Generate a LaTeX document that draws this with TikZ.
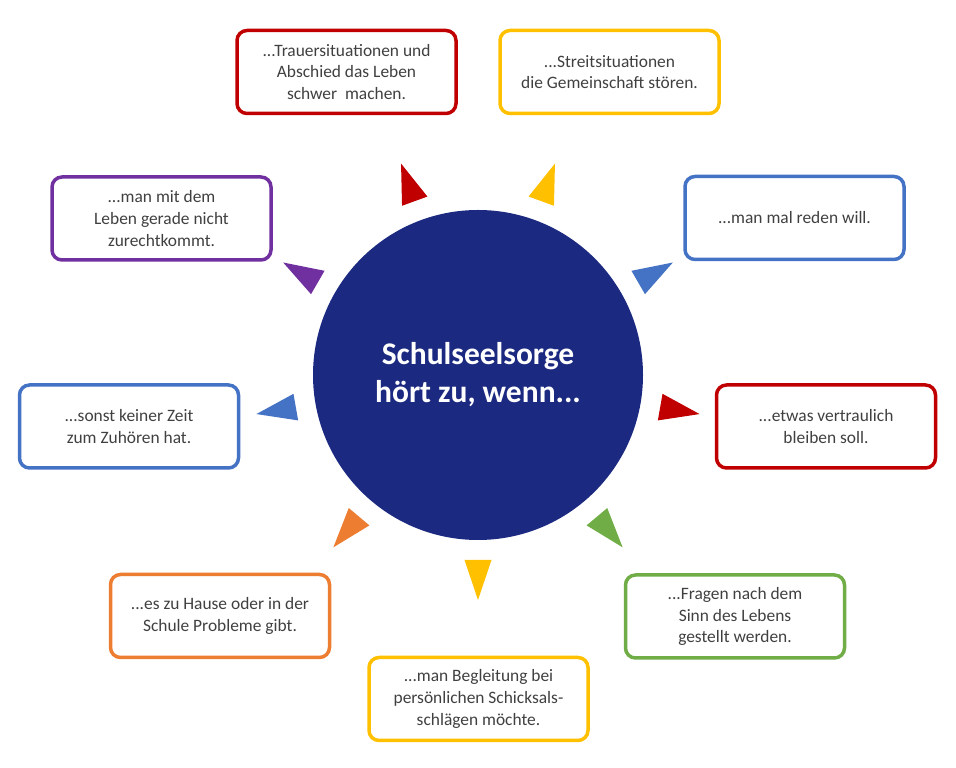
\documentclass[tikz,border=0pt]{standalone}
\usepackage{fontspec}
\setmainfont{Carlito}
\usepackage{tikz}
\definecolor{hubblue}{HTML}{1B2A80}
\definecolor{textgray}{HTML}{404040}
\definecolor{boxred}{HTML}{C00000}
\definecolor{boxyellow}{HTML}{FFC000}
\definecolor{boxblue}{HTML}{4472C4}
\definecolor{boxgreen}{HTML}{70AD47}
\definecolor{boxorange}{HTML}{ED7D31}
\definecolor{boxpurple}{HTML}{7030A0}
\tikzstyle{situation} = [rectangle, rounded corners=10pt, minimum width=219pt, minimum height=83pt, line width=3.5pt, text centered, align=center, fill=white, text=textgray, font=\fontsize{17.4}{21.7}\selectfont]
\tikzstyle{hubcircle} = [circle, fill=hubblue, minimum size=330pt, inner sep=0pt, text=white, align=center, font=\fontsize{31.5}{38}\selectfont\bfseries]
\tikzstyle{pointer} = [draw=none]

\begin{document}
\begin{tikzpicture}[x=1pt, y=1pt]
			\useasboundingbox (0,0) rectangle (956,768);
			
			\node (hub) [hubcircle] at (478,393) {Schulseelsorge\\hört zu, wenn...};
			
			\node (trauer) [situation, draw=boxred] at (346.5,696) {...Trauersituationen und\\Abschied das Leben\\schwer~ machen.};
			\node (streit) [situation, draw=boxyellow] at (609.5,696) {...Streitsituationen\\die Gemeinschaft stören.};
			\node (reden) [situation, draw=boxblue] at (794.5,550) {...man mal reden will.};
			\node (vertraulich) [situation, draw=boxred] at (826,341.5) {...etwas vertraulich\\bleiben soll.};
			\node (sinn) [situation, draw=boxgreen] at (735,151.5) {...Fragen nach dem\\Sinn des Lebens\\gestellt werden.};
			\node (schicksal) [situation, draw=boxyellow] at (478.5,69) {...man Begleitung bei\\persönlichen Schicksals-\\schlägen möchte.};
			\node (probleme) [situation, draw=boxorange] at (220,152) {...es zu Hause oder in der\\Schule Probleme gibt.};
			\node (zuhoeren) [situation, draw=boxblue] at (129,341.5) {...sonst keiner Zeit\\zum Zuhören hat.};
			\node (leben) [situation, draw=boxpurple] at (161.5,549.5) {...man mit dem\\Leben gerade nicht\\zurechtkommt.};
			
			\fill[pointer, boxyellow, shift={(hub.center)}, rotate=-90] (185,-13.5) -- (225,0) -- (185,13.5) -- cycle;
			\fill[pointer, boxgreen, shift={(hub.center)}, rotate=-50] (185,-13.5) -- (225,0) -- (185,13.5) -- cycle;
			\fill[pointer, boxred, shift={(hub.center)}, rotate=-10] (185,-13.5) -- (225,0) -- (185,13.5) -- cycle;
			\fill[pointer, boxblue, shift={(hub.center)}, rotate=30] (185,-13.5) -- (225,0) -- (185,13.5) -- cycle;
			\fill[pointer, boxyellow, shift={(hub.center)}, rotate=70] (185,-13.5) -- (225,0) -- (185,13.5) -- cycle;
			\fill[pointer, boxred, shift={(hub.center)}, rotate=110] (185,-13.5) -- (225,0) -- (185,13.5) -- cycle;
			\fill[pointer, boxpurple, shift={(hub.center)}, rotate=150] (185,-13.5) -- (225,0) -- (185,13.5) -- cycle;
			\fill[pointer, boxblue, shift={(hub.center)}, rotate=190] (185,-13.5) -- (225,0) -- (185,13.5) -- cycle;
			\fill[pointer, boxorange, shift={(hub.center)}, rotate=230] (185,-13.5) -- (225,0) -- (185,13.5) -- cycle;
			
\end{tikzpicture}
\end{document}
